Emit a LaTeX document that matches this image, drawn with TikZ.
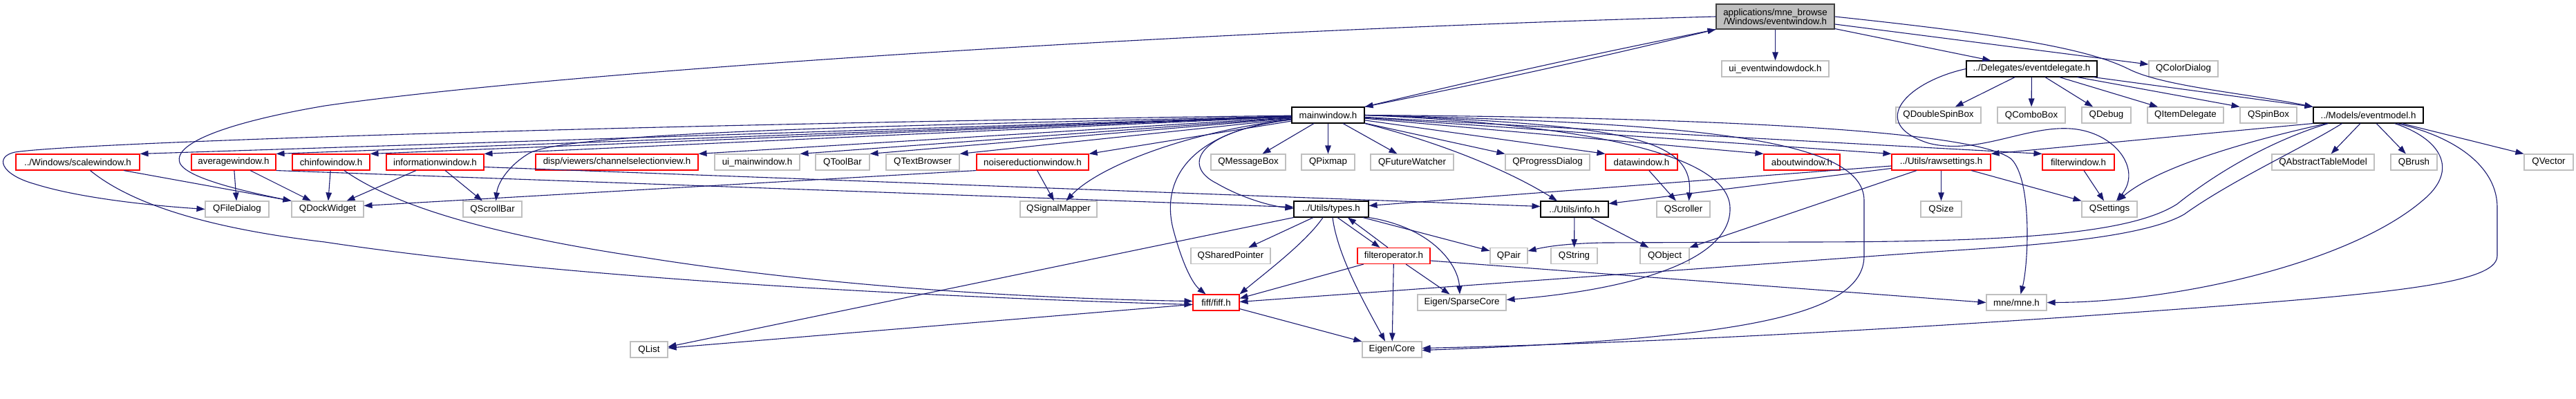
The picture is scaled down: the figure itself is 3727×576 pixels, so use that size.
\documentclass[tikz,border=0pt]{standalone}
\usepackage{fontspec}
\setmainfont{Liberation Sans}
\usetikzlibrary{arrows.meta}
\definecolor{edgecol}{HTML}{191970}
\definecolor{gborder}{HTML}{BFBFBF}
\definecolor{rootfill}{HTML}{BFBFBF}
\definecolor{rootdraw}{HTML}{404040}
\definecolor{rborder}{HTML}{FF0000}
\tikzset{
  box/.style={rectangle, inner sep=0pt, minimum height=23pt, line width=1.1pt,
    font=\fontsize{13.33}{13.5}\selectfont, text=black},
  gbox/.style={box, draw=gborder},
  rbox/.style={box, draw=rborder},
  kbox/.style={box, draw=black},
  rootbox/.style={box, fill=rootfill, draw=rootdraw, align=center, minimum height=36pt},
  dep/.style={draw=edgecol, line width=1.1pt, -{Triangle[length=12pt,width=8.5pt]}}
}
\begin{document}
\begin{tikzpicture}[x=1pt,y=-1pt]
\useasboundingbox (0,0) rectangle (3727,576);
% row 1
\node[rootbox, minimum width=171pt] (root) at (2568.5,24) {applications/mne\_browse\\/Windows/eventwindow.h};
% row 2
\node[gbox, minimum width=155pt] (uied) at (2568.5,99.5) {ui\_eventwindowdock.h};
\node[kbox, minimum width=189pt] (evdel) at (2939.5,99.5) {../Delegates/eventdelegate.h};
\node[gbox, minimum width=100pt] (qcolordlg) at (3159,99.5) {QColorDialog};
% row 3
\node[kbox, minimum width=105pt] (mainw) at (1921.5,166.5) {mainwindow.h};
\node[gbox, minimum width=123pt] (qdspin) at (2804.5,166.5) {QDoubleSpinBox};
\node[gbox, minimum width=98pt] (qcombo) at (2939,166.5) {QComboBox};
\node[gbox, minimum width=71pt] (qdebug) at (3047.5,166.5) {QDebug};
\node[gbox, minimum width=110pt] (qitemdel) at (3162,166.5) {QItemDelegate};
\node[gbox, minimum width=82pt] (qspin) at (3282,166.5) {QSpinBox};
\node[kbox, minimum width=159pt] (evmodel) at (3426.5,166.5) {../Models/eventmodel.h};
% row 4
\node[rbox, minimum width=179pt] (scalew) at (112.5,234.5) {../Windows/scalewindow.h};
\node[rbox, minimum width=122pt] (avgw) at (338,234.5) {averagewindow.h};
\node[rbox, minimum width=112pt] (chinfo) at (479,234.5) {chinfowindow.h};
\node[rbox, minimum width=141pt] (infow) at (629.5,234.5) {informationwindow.h};
\node[rbox, minimum width=235pt] (chsel) at (892.5,234.5) {disp/viewers/channelselectionview.h};
\node[gbox, minimum width=123pt] (uimain) at (1095.5,234.5) {ui\_mainwindow.h};
\node[gbox, minimum width=78pt] (qtoolbar) at (1219,234.5) {QToolBar};
\node[gbox, minimum width=106pt] (qtextbr) at (1335,234.5) {QTextBrowser};
\node[rbox, minimum width=162pt] (noisew) at (1494,234.5) {noisereductionwindow.h};
\node[gbox, minimum width=108pt] (qmsgbox) at (1806,234.5) {QMessageBox};
\node[gbox, minimum width=77pt] (qpixmap) at (1921.5,234.5) {QPixmap};
\node[gbox, minimum width=120pt] (qfuture) at (2043,234.5) {QFutureWatcher};
\node[gbox, minimum width=122pt] (qprog) at (2239,234.5) {QProgressDialog};
\node[rbox, minimum width=104pt] (dataw) at (2375,234.5) {datawindow.h};
\node[rbox, minimum width=110pt] (aboutw) at (2607,234.5) {aboutwindow.h};
\node[rbox, minimum width=143pt] (rawset) at (2808.5,234.5) {../Utils/rawsettings.h};
\node[rbox, minimum width=104pt] (filterw) at (3007,234.5) {filterwindow.h};
\node[gbox, minimum width=148pt] (qabstm) at (3361,234.5) {QAbstractTableModel};
\node[gbox, minimum width=67pt] (qbrush) at (3492.5,234.5) {QBrush};
\node[gbox, minimum width=71pt] (qvector) at (3687.5,234.5) {QVector};
% row 5
\node[gbox, minimum width=92pt] (qfiledlg) at (343,302.5) {QFileDialog};
\node[gbox, minimum width=104pt] (qdock) at (474,302.5) {QDockWidget};
\node[gbox, minimum width=85pt] (qscrollbar) at (712.5,302.5) {QScrollBar};
\node[gbox, minimum width=111pt] (qsigmap) at (1531.5,302.5) {QSignalMapper};
\node[kbox, minimum width=108pt] (types) at (1926,302.5) {../Utils/types.h};
\node[kbox, minimum width=98pt] (info) at (2278,302.5) {../Utils/info.h};
\node[gbox, minimum width=77pt] (qscroller) at (2435.5,302.5) {QScroller};
\node[gbox, minimum width=59pt] (qsize) at (2808.5,302.5) {QSize};
\node[gbox, minimum width=80pt] (qsettings) at (3052,302.5) {QSettings};
% row 6
\node[gbox, minimum width=115pt] (qshptr) at (1780.5,370) {QSharedPointer};
\node[rbox, minimum width=105pt] (filterop) at (2016.5,370) {filteroperator.h};
\node[gbox, minimum width=54pt] (qpair) at (2183,370) {QPair};
\node[gbox, minimum width=67pt] (qstring) at (2277.5,370) {QString};
\node[gbox, minimum width=71pt] (qobject) at (2408.5,370) {QObject};
% row 7
\node[rbox, minimum width=67pt] (fiff) at (1759.5,437.5) {fiff/fiff.h};
\node[gbox, minimum width=128pt] (sparse) at (2115,437.5) {Eigen/SparseCore};
\node[gbox, minimum width=87pt] (mne) at (2917.5,437.5) {mne/mne.h};
% row 8
\node[gbox, minimum width=54pt] (qlist) at (939,505.5) {QList};
\node[gbox, minimum width=86pt] (eigcore) at (2014,505.5) {Eigen/Core};

% ---- edges from eventwindow.h
\draw[dep] (root) -- (uied);
\draw[dep] (root) -- (evdel);
\draw[dep] (root) -- (qcolordlg);
\draw[dep] (root.east) .. controls (2900,50) and (3020,70) .. (3080,100) .. controls (3130,125) and (3250,135) .. (evmodel.north west);
\draw[dep] (root.south west) to[bend left=1] (mainw.north east);
\draw[dep] (mainw.north east) to[bend left=1] (root.south west);
\draw[dep] (root.west) .. controls (1700,45) and (800,105) .. (470,153) .. controls (340,175) and (250,205) .. (260,235) .. controls (268,258) and (360,278) .. (qdock.north west);

% ---- edges from eventdelegate.h
\foreach \t in {qdspin,qcombo,qdebug,qitemdel} \draw[dep] (evdel) -- (\t);
\draw[dep] (evdel) -- (qspin.north west);
\draw[dep] (evdel) -- (evmodel.north west);
\draw[dep] (evdel.west) .. controls (2760,118) and (2700,178) .. (2790,207) .. controls (2860,225) and (2930,182) .. (2995,186) .. controls (3060,190) and (3100,245) .. ([xshift=10pt]qsettings.north);

% ---- edges from eventmodel.h
\draw[dep] (evmodel) -- (qabstm);
\draw[dep] (evmodel) -- (qbrush);
\draw[dep] (evmodel) -- (qvector.north west);
\draw[dep] (evmodel.south west) -- (rawset.north east);
\draw[dep] ([xshift=-60pt]evmodel.south) .. controls (3290,195) and (3130,235) .. ([xshift=12pt]qsettings.north);
\draw[dep] ([xshift=-58pt]evmodel.south) .. controls (3280,205) and (3200,255) .. (3150,295) .. controls (3080,340) and (2900,350) .. (2600,350) -- (2320,351) .. controls (2270,352) and (2240,356) .. ([yshift=7pt]qpair.east);
\draw[dep] ([xshift=-38pt]evmodel.south) .. controls (3330,215) and (3230,260) .. (3160,310) .. controls (3090,350) and (2880,358) .. (2770,366) -- ([yshift=1pt]fiff.east);
\draw[dep] ([xshift=38pt]evmodel.south) .. controls (3530,200) and (3560,245) .. (3505,290) .. controls (3400,380) and (3150,437) .. (mne.east);
\draw[dep] ([xshift=42pt]evmodel.south) .. controls (3560,200) and (3613,245) .. (3613,300) -- (3613,370) .. controls (3613,415) and (3420,428) .. (3000,458) .. controls (2600,485) and (2300,498) .. ([yshift=2pt]eigcore.east);

% ---- edges from mainwindow.h
\foreach \t in {scalew,avgw,chinfo,infow,chsel,uimain,qtoolbar,qtextbr,noisew} \draw[dep] (mainw) -- (\t.north east);
\draw[dep] (mainw) -- (qmsgbox);
\draw[dep] (mainw) -- (qpixmap);
\draw[dep] (mainw) -- (qfuture);
\foreach \t in {qprog,dataw,aboutw,rawset,filterw} \draw[dep] (mainw) -- (\t.north west);
\draw[dep] (mainw) .. controls (1000,178) and (120,205) .. (22,220) .. controls (-8,226) and (0,252) .. (50,266) .. controls (120,288) and (230,298) .. (qfiledlg.west);
\draw[dep] (mainw) .. controls (1300,182) and (820,190) .. (765,222) .. controls (735,240) and (720,265) .. ([xshift=5pt]qscrollbar.north);
\draw[dep] (mainw) .. controls (1720,190) and (1590,240) .. ([xshift=11pt]qsigmap.north);
\draw[dep] (mainw) .. controls (1720,190) and (1680,260) .. (1697,330) .. controls (1710,380) and (1725,410) .. ([xshift=-15pt]fiff.north);
\draw[dep] (mainw) .. controls (1730,190) and (1710,240) .. (1760,265) .. controls (1800,288) and (1840,298) .. ([yshift=1pt]types.west);
\draw[dep] (mainw.south east) .. controls (2080,205) and (2180,245) .. ([xshift=-25pt]info.north);
\draw[dep] (mainw.east) .. controls (2350,180) and (2450,200) .. ([xshift=8pt]qscroller.north);
\draw[dep] (mainw.east) .. controls (2250,178) and (2500,215) .. (2503,300) .. controls (2506,380) and (2350,420) .. ([yshift=4pt]sparse.east);
\draw[dep] (mainw.east) .. controls (2500,170) and (2860,190) .. (2910,230) .. controls (2940,260) and (2935,380) .. ([xshift=6pt]mne.north);
\draw[dep] (mainw.east) .. controls (2450,178) and (2697,200) .. (2697,290) -- (2697,370) .. controls (2697,460) and (2500,490) .. ([yshift=-1pt]eigcore.east);

% ---- row 4 windows
\draw[dep] (scalew) -- (qdock.north west);
\draw[dep] ([xshift=18pt]scalew.south) .. controls (190,295) and (300,330) .. (470,350) .. controls (800,400) and (1300,428) .. ([yshift=-3pt]fiff.west);
\draw[dep] (avgw) -- (qfiledlg);
\draw[dep] (avgw) -- (qdock);
\draw[dep] (avgw.south east) -- ([yshift=3pt]types.west);
\draw[dep] (chinfo) -- (qdock);
\draw[dep] ([xshift=19pt]chinfo.south) .. controls (560,290) and (680,335) .. (930,372) .. controls (1200,415) and (1500,432) .. ([yshift=2pt]fiff.west);
\draw[dep] (infow) -- (qdock);
\draw[dep] (infow) -- (qscrollbar);
\draw[dep] ([yshift=-7pt]infow.east) -- ([yshift=4pt]info.west);
\draw[dep] (noisew) -- (qsigmap);
\draw[dep] (noisew.south west) -- ([yshift=5pt]qdock.east);
\draw[dep] (dataw) -- (qscroller);
\draw[dep] (filterw) -- (qsettings);
\draw[dep] (rawset) -- (qsize);
\draw[dep] (rawset) -- (qsettings.north west);
\draw[dep] (rawset) -- (qobject.north east);
\draw[dep] (rawset) -- ([yshift=8pt]info.east);
\draw[dep] (rawset) -- ([yshift=5pt]types.east);

% ---- types.h, filteroperator.h, fiff.h, info.h
\draw[dep] (types) -- (qshptr);
\draw[dep] ([xshift=-12pt]types.south) .. controls (1890,350) and (1830,395) .. (fiff.north east);
\draw[dep] ([xshift=9pt]types.south) -- ([xshift=-20pt]filterop.north);
\draw[dep] ([xshift=-8.5pt]filterop.north) -- ([xshift=24pt]types.south);
\draw[dep] ([xshift=2pt]types.south) .. controls (1935,370) and (1975,440) .. ([xshift=-10pt]eigcore.north);
\draw[dep] (types) -- (qpair);
\draw[dep] (types.south east) .. controls (2075,330) and (2110,385) .. ([xshift=-3pt]sparse.north);
\draw[dep] (types.south west) -- ([yshift=4pt]qlist.east);
\draw[dep] (filterop) -- ([yshift=6pt]fiff.east);
\draw[dep] (filterop) -- (eigcore);
\draw[dep] (filterop) -- (sparse);
\draw[dep] ([yshift=-7pt]filterop.east) -- (mne.west);
\draw[dep] (fiff) -- (eigcore);
\draw[dep] (fiff) -- (qlist);
\draw[dep] (info) -- (qstring);
\draw[dep] (info) -- (qobject);
\end{tikzpicture}
\end{document}
